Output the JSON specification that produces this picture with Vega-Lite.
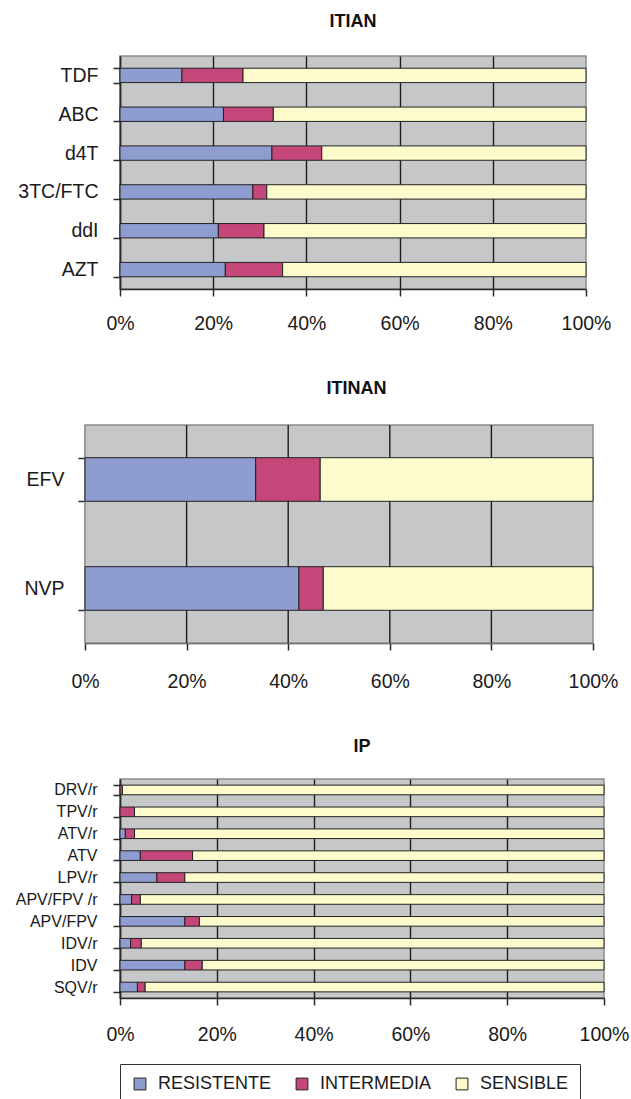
{
  "$schema": "https://vega.github.io/schema/vega-lite/v6.json",
  "padding": {"left": 10, "top": 12, "right": 10, "bottom": 0},
  "background": "white",
  "datasets": {
    "itian": [
      {"drug": "TDF", "tipo": "RESISTENTE", "pct": 13.3},
      {"drug": "TDF", "tipo": "INTERMEDIA", "pct": 13.1},
      {"drug": "TDF", "tipo": "SENSIBLE", "pct": 73.6},
      {"drug": "ABC", "tipo": "RESISTENTE", "pct": 22.2},
      {"drug": "ABC", "tipo": "INTERMEDIA", "pct": 10.7},
      {"drug": "ABC", "tipo": "SENSIBLE", "pct": 67.1},
      {"drug": "d4T", "tipo": "RESISTENTE", "pct": 32.6},
      {"drug": "d4T", "tipo": "INTERMEDIA", "pct": 10.7},
      {"drug": "d4T", "tipo": "SENSIBLE", "pct": 56.7},
      {"drug": "3TC/FTC", "tipo": "RESISTENTE", "pct": 28.5},
      {"drug": "3TC/FTC", "tipo": "INTERMEDIA", "pct": 3.0},
      {"drug": "3TC/FTC", "tipo": "SENSIBLE", "pct": 68.5},
      {"drug": "ddI", "tipo": "RESISTENTE", "pct": 21.1},
      {"drug": "ddI", "tipo": "INTERMEDIA", "pct": 9.8},
      {"drug": "ddI", "tipo": "SENSIBLE", "pct": 69.1},
      {"drug": "AZT", "tipo": "RESISTENTE", "pct": 22.6},
      {"drug": "AZT", "tipo": "INTERMEDIA", "pct": 12.3},
      {"drug": "AZT", "tipo": "SENSIBLE", "pct": 65.1}
    ],
    "itinan": [
      {"drug": "EFV", "tipo": "RESISTENTE", "pct": 33.6},
      {"drug": "EFV", "tipo": "INTERMEDIA", "pct": 12.7},
      {"drug": "EFV", "tipo": "SENSIBLE", "pct": 53.7},
      {"drug": "NVP", "tipo": "RESISTENTE", "pct": 42.1},
      {"drug": "NVP", "tipo": "INTERMEDIA", "pct": 4.8},
      {"drug": "NVP", "tipo": "SENSIBLE", "pct": 53.1}
    ],
    "ip": [
      {"drug": "DRV/r", "tipo": "INTERMEDIA", "pct": 0.5},
      {"drug": "DRV/r", "tipo": "SENSIBLE", "pct": 99.5},
      {"drug": "TPV/r", "tipo": "INTERMEDIA", "pct": 3.0},
      {"drug": "TPV/r", "tipo": "SENSIBLE", "pct": 97.0},
      {"drug": "ATV/r", "tipo": "RESISTENTE", "pct": 1.1},
      {"drug": "ATV/r", "tipo": "INTERMEDIA", "pct": 1.9},
      {"drug": "ATV/r", "tipo": "SENSIBLE", "pct": 97.0},
      {"drug": "ATV", "tipo": "RESISTENTE", "pct": 4.2},
      {"drug": "ATV", "tipo": "INTERMEDIA", "pct": 10.8},
      {"drug": "ATV", "tipo": "SENSIBLE", "pct": 85.0},
      {"drug": "LPV/r", "tipo": "RESISTENTE", "pct": 7.6},
      {"drug": "LPV/r", "tipo": "INTERMEDIA", "pct": 5.8},
      {"drug": "LPV/r", "tipo": "SENSIBLE", "pct": 86.6},
      {"drug": "APV/FPV /r", "tipo": "RESISTENTE", "pct": 2.4},
      {"drug": "APV/FPV /r", "tipo": "INTERMEDIA", "pct": 1.8},
      {"drug": "APV/FPV /r", "tipo": "SENSIBLE", "pct": 95.8},
      {"drug": "APV/FPV", "tipo": "RESISTENTE", "pct": 13.4},
      {"drug": "APV/FPV", "tipo": "INTERMEDIA", "pct": 3.0},
      {"drug": "APV/FPV", "tipo": "SENSIBLE", "pct": 83.6},
      {"drug": "IDV/r", "tipo": "RESISTENTE", "pct": 2.2},
      {"drug": "IDV/r", "tipo": "INTERMEDIA", "pct": 2.2},
      {"drug": "IDV/r", "tipo": "SENSIBLE", "pct": 95.6},
      {"drug": "IDV", "tipo": "RESISTENTE", "pct": 13.4},
      {"drug": "IDV", "tipo": "INTERMEDIA", "pct": 3.6},
      {"drug": "IDV", "tipo": "SENSIBLE", "pct": 83.0},
      {"drug": "SQV/r", "tipo": "RESISTENTE", "pct": 3.6},
      {"drug": "SQV/r", "tipo": "INTERMEDIA", "pct": 1.6},
      {"drug": "SQV/r", "tipo": "SENSIBLE", "pct": 94.8}
    ],
    "grid": [{"v": 0.2}, {"v": 0.4}, {"v": 0.6}, {"v": 0.8}]
  },
  "spacing": 46,
  "resolve": {"scale": {"color": "independent"}, "legend": {"color": "independent"}},
  "config": {
    "font": "Liberation Sans",
    "view": {"fill": "#c6c7c9", "stroke": "#8c8c8c", "strokeWidth": 1.5},
    "title": {"fontSize": 18, "fontWeight": "bold", "color": "#111", "anchor": "middle", "frame": "group", "offset": 15},
    "axis": {"labelColor": "#1a1a1a", "domainColor": "#2a2a2a", "tickColor": "#2a2a2a", "domainWidth": 1.5, "tickWidth": 1.5, "title": null, "labelFlush": false},
    "bar": {"stroke": "#222", "strokeWidth": 1}
  },
  "vconcat": [
    {
      "title": "ITIAN",
      "width": 466,
      "height": 233,
      "data": {"name": "itian"},
      "transform": [{"calculate": "indexof(['RESISTENTE','INTERMEDIA','SENSIBLE'], datum.tipo)", "as": "orden"}],
      "mark": "bar",
      "encoding": {
        "y": {"field": "drug", "type": "nominal", "sort": ["TDF", "ABC", "d4T", "3TC/FTC", "ddI", "AZT"],
          "scale": {"paddingInner": 0.63, "paddingOuter": 0.315},
          "axis": {"tickBand": "extent", "tickSize": 7, "labelFontSize": 19.5, "labelPadding": 15, "minExtent": 109, "maxExtent": 109, "grid": false}},
        "x": {"field": "pct", "type": "quantitative", "stack": "normalize",
          "scale": {"domain": [0, 1], "nice": false},
          "axis": {"values": [0, 0.2, 0.4, 0.6, 0.8, 1], "format": ".0%", "labelFontSize": 19.5, "tickSize": 7, "labelPadding": 18,
            "grid": true, "gridColor": {"condition": {"test": "datum.value >= 1", "value": "transparent"}, "value": "#1e1e1e"}, "gridWidth": 1.4}},
        "order": {"field": "orden", "type": "quantitative"},
        "color": {"field": "tipo", "type": "nominal",
          "scale": {"domain": ["RESISTENTE", "INTERMEDIA", "SENSIBLE"], "range": ["#8e9ccf", "#c5477a", "#fdfacc"]},
          "legend": null}
      }
    },
    {
      "title": {"text": "ITINAN", "offset": 17},
      "width": 473,
      "height": 218,
      "view": {"fill": null, "stroke": null},
      "layer": [
        {
          "data": {"values": [{"a": 0, "b": 1}]},
          "mark": {"type": "rect", "fill": "#c6c7c9", "stroke": "#8c8c8c", "strokeWidth": 1.5},
          "encoding": {
            "x": {"field": "a", "type": "quantitative"},
            "x2": {"field": "b"}
          }
        },
        {
          "data": {"name": "grid"},
          "mark": {"type": "rule", "color": "#1e1e1e", "strokeWidth": 1.4},
          "encoding": {"x": {"field": "v", "type": "quantitative"}}
        },
        {
          "data": {"name": "itinan"},
          "transform": [{"calculate": "indexof(['RESISTENTE','INTERMEDIA','SENSIBLE'], datum.tipo)", "as": "orden"}],
          "mark": "bar",
          "encoding": {
            "y": {"field": "drug", "type": "nominal", "sort": ["EFV", "NVP"],
              "scale": {"paddingInner": 0.6, "paddingOuter": 0.3},
              "axis": {"tickBand": "extent", "tickSize": 7, "labelFontSize": 19.5, "labelPadding": 14, "offset": 35, "grid": false}},
            "x": {"field": "pct", "type": "quantitative", "stack": "normalize",
              "scale": {"domain": [0, 1], "nice": false, "range": [-35, 473]},
              "axis": {"values": [0, 0.2, 0.4, 0.6, 0.8, 1], "format": ".0%", "labelFontSize": 19.5, "tickSize": 7, "labelPadding": 22, "grid": false}},
            "order": {"field": "orden", "type": "quantitative"},
            "color": {"field": "tipo", "type": "nominal",
              "scale": {"domain": ["RESISTENTE", "INTERMEDIA", "SENSIBLE"], "range": ["#8e9ccf", "#c5477a", "#fdfacc"]},
              "legend": null}
          }
        }
      ]
    },
    {
      "title": "IP",
      "width": 484,
      "height": 219,
      "data": {"name": "ip"},
      "transform": [{"calculate": "indexof(['RESISTENTE','INTERMEDIA','SENSIBLE'], datum.tipo)", "as": "orden"}],
      "mark": "bar",
      "encoding": {
        "y": {"field": "drug", "type": "nominal", "sort": ["DRV/r", "TPV/r", "ATV/r", "ATV", "LPV/r", "APV/FPV /r", "APV/FPV", "IDV/r", "IDV", "SQV/r"],
          "scale": {"paddingInner": 0.56, "paddingOuter": 0.28},
          "axis": {"tickBand": "extent", "tickSize": 7, "labelFontSize": 16, "labelPadding": 16, "minExtent": 109, "maxExtent": 109, "grid": false}},
        "x": {"field": "pct", "type": "quantitative", "stack": "normalize",
          "scale": {"domain": [0, 1], "nice": false},
          "axis": {"values": [0, 0.2, 0.4, 0.6, 0.8, 1], "format": ".0%", "labelFontSize": 19.5, "tickSize": 7, "labelPadding": 20,
            "grid": true, "gridColor": {"condition": {"test": "datum.value >= 1", "value": "transparent"}, "value": "#1e1e1e"}, "gridWidth": 1.4}},
        "order": {"field": "orden", "type": "quantitative"},
        "color": {"field": "tipo", "type": "nominal",
          "scale": {"domain": ["RESISTENTE", "INTERMEDIA", "SENSIBLE"], "range": ["#8e9ccf", "#c5477a", "#fdfacc"]},
          "legend": {"title": null, "orient": "bottom", "direction": "horizontal", "offset": 20,
            "strokeColor": "#333", "padding": 11, "symbolType": "square", "symbolSize": 140,
            "symbolStrokeColor": "#222", "symbolStrokeWidth": 1, "symbolOpacity": 1,
            "labelFontSize": 18, "labelColor": "#1a1a1a", "labelOffset": 9, "columnPadding": 21}}
      }
    }
  ]
}
